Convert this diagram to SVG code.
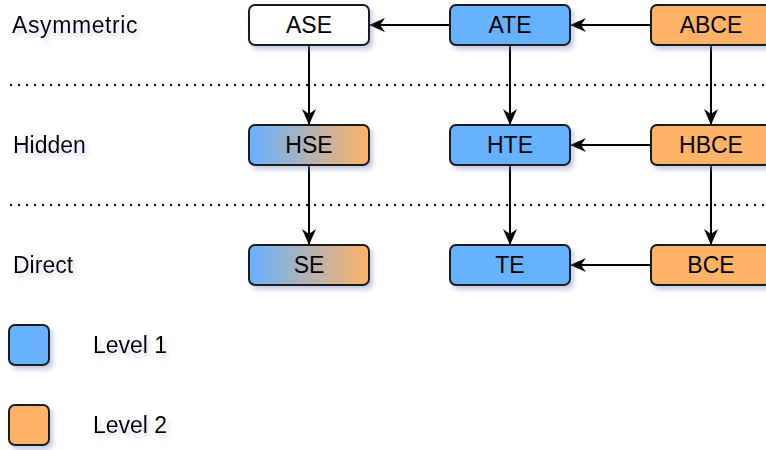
<svg xmlns="http://www.w3.org/2000/svg" width="766" height="450" viewBox="0 0 766 450">
<style>
.n{stroke:#1a1a1a;stroke-width:2;filter:url(#sh)}
.t{font-family:"Liberation Sans",Arial,sans-serif;font-size:23px;fill:#000;text-anchor:middle;dominant-baseline:central}
.l{font-family:"Liberation Sans",Arial,sans-serif;font-size:23px;fill:#000;dominant-baseline:central;filter:url(#tsh)}
.c{stroke:#000;stroke-width:2;fill:none;marker-end:url(#ah)}
.d{stroke:#000;stroke-width:2;stroke-dasharray:2 6;fill:none}
.b{fill:#66b2ff}.o{fill:#ffb366}.w{fill:#fff}
</style>
<defs>
<filter id="sh" x="-20%" y="-30%" width="150%" height="180%">
<feGaussianBlur in="SourceAlpha" stdDeviation="2.5"/>
<feOffset dx="3" dy="4" result="b"/>
<feFlood flood-color="#8090c0" flood-opacity="0.45"/>
<feComposite in2="b" operator="in"/>
<feMerge><feMergeNode/><feMergeNode in="SourceGraphic"/></feMerge>
</filter>
<filter id="tsh" x="-20%" y="-50%" width="150%" height="220%">
<feGaussianBlur in="SourceAlpha" stdDeviation="2"/>
<feOffset dx="3" dy="4" result="b"/>
<feFlood flood-color="#8090c0" flood-opacity="0.35"/>
<feComposite in2="b" operator="in"/>
<feMerge><feMergeNode/><feMergeNode in="SourceGraphic"/></feMerge>
</filter>
<linearGradient id="g" x1="0" y1="0" x2="1" y2="0">
<stop offset="0" stop-color="#66b2ff"/>
<stop offset="1" stop-color="#ffb366"/>
</linearGradient>
<marker id="ah" viewBox="0 0 16 16" refX="15" refY="8" markerWidth="16" markerHeight="16" markerUnits="userSpaceOnUse" orient="auto">
<path d="M0,1 L16,8 L0,15 L5,8 z" fill="#000"/>
</marker>
</defs>
<g id="separators">
<line class="d" x1="10" y1="85" x2="766" y2="85"/>
<line class="d" x1="10" y1="205" x2="766" y2="205"/>
</g>
<g id="row-labels">
<text class="l" x="12" y="25" letter-spacing="0.6">Asymmetric</text>
<text class="l" x="13" y="145">Hidden</text>
<text class="l" x="13" y="265">Direct</text>
</g>
<g id="connectors">
<line class="c" x1="450" y1="25" x2="370" y2="25"/>
<line class="c" x1="651" y1="25" x2="571" y2="25"/>
<line class="c" x1="309" y1="45" x2="309" y2="124"/>
<line class="c" x1="510" y1="45" x2="510" y2="124"/>
<line class="c" x1="711" y1="45" x2="711" y2="124"/>
<line class="c" x1="651" y1="145" x2="571" y2="145"/>
<line class="c" x1="309" y1="165" x2="309" y2="244"/>
<line class="c" x1="510" y1="165" x2="510" y2="244"/>
<line class="c" x1="711" y1="165" x2="711" y2="244"/>
<line class="c" x1="651" y1="265" x2="571" y2="265"/>
</g>
<g id="ASE"><rect class="n w" x="249" y="5" width="120" height="40" rx="6"/><text class="t" x="309" y="25">ASE</text></g>
<g id="ATE"><rect class="n b" x="450" y="5" width="120" height="40" rx="6"/><text class="t" x="510" y="25">ATE</text></g>
<g id="ABCE"><rect class="n o" x="651" y="5" width="120" height="40" rx="6"/><text class="t" x="711" y="25">ABCE</text></g>
<g id="HSE"><rect class="n" fill="url(#g)" x="249" y="125" width="120" height="40" rx="6"/><text class="t" x="309" y="145">HSE</text></g>
<g id="HTE"><rect class="n b" x="450" y="125" width="120" height="40" rx="6"/><text class="t" x="510" y="145">HTE</text></g>
<g id="HBCE"><rect class="n o" x="651" y="125" width="120" height="40" rx="6"/><text class="t" x="711" y="145">HBCE</text></g>
<g id="SE"><rect class="n" fill="url(#g)" x="249" y="245" width="120" height="40" rx="6"/><text class="t" x="309" y="265">SE</text></g>
<g id="TE"><rect class="n b" x="450" y="245" width="120" height="40" rx="6"/><text class="t" x="510" y="265">TE</text></g>
<g id="BCE"><rect class="n o" x="651" y="245" width="120" height="40" rx="6"/><text class="t" x="711" y="265">BCE</text></g>
<g id="legend-level1"><rect class="n b" x="9" y="325" width="40" height="40" rx="6"/><text class="l" x="93" y="345">Level 1</text></g>
<g id="legend-level2"><rect class="n o" x="9" y="405" width="40" height="40" rx="6"/><text class="l" x="93" y="425">Level 2</text></g>
</svg>
